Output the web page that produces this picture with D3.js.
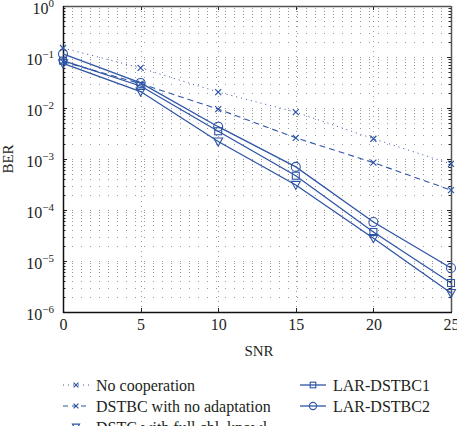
<!DOCTYPE html>
<html><head><meta charset="utf-8">
<script src="https://cdn.jsdelivr.net/npm/d3@7"></script>
<style>body{margin:0;background:#fff}svg{display:block}</style>
</head><body>
<script>
const snr = [0, 5, 10, 15, 20, 25];
const noCoop = [0.15, 0.061, 0.0205, 0.0083, 0.0025, 0.0008];
const dstbcNoAdapt = [0.081, 0.030, 0.0095, 0.0026, 0.00085, 0.000245];
const dstcFull = [0.075, 0.021, 0.0022, 0.00031, 0.000028, 0.00000235];
const lar1 = [0.085, 0.027, 0.0035, 0.00047, 0.000037, 0.0000037];
const lar2 = [0.115, 0.031, 0.0043, 0.0007, 0.000058, 0.0000073];
const seriesNames = ["No cooperation", "DSTBC with no adaptation", "DSTC with full chl. knowl.", "LAR-DSTBC1", "LAR-DSTBC2"];
const xTicks = [0, 5, 10, 15, 20, 25];
const yExponents = [0, -1, -2, -3, -4, -5, -6];

const W = 457, H = 426;
const m = {l: 63, r: 451, t: 6, b: 312};
const blue = "#2f55a6";
const textCol = "#231f20";
const font = "Liberation Serif, Times New Roman, serif";

const svg = d3.select("body").append("svg").attr("width", W).attr("height", H);
const x = d3.scaleLinear().domain([0, 25]).range([m.l, m.r]);
const y = d3.scaleLog().domain([1e-6, 1]).range([m.b, m.t]);

// grid
const minor = [];
for (let e = -6; e < 0; e++) for (let k = 1; k <= 9; k++) { if (!(e === -6 && k === 1)) minor.push(k * Math.pow(10, e)); }
svg.append("g").selectAll("line").data(minor).join("line")
  .attr("x1", m.l).attr("x2", m.r)
  .attr("y1", d => Math.round(y(d)) + 0.5).attr("y2", d => Math.round(y(d)) + 0.5)
  .attr("stroke", "#999").attr("stroke-width", 1).attr("stroke-dasharray", "1,8");
svg.append("g").selectAll("line").data([5, 10, 15, 20]).join("line")
  .attr("x1", d => Math.round(x(d)) + 0.5).attr("x2", d => Math.round(x(d)) + 0.5)
  .attr("y1", m.t).attr("y2", m.b)
  .attr("stroke", "#999").attr("stroke-width", 1).attr("stroke-dasharray", "1,4");

// axes
const gx = svg.append("g").attr("transform", `translate(0,${m.b})`)
  .call(d3.axisBottom(x).tickValues(xTicks).tickSize(0).tickPadding(7).tickFormat(d3.format("d")));
gx.select(".domain").remove();
gx.selectAll("text").attr("font-family", font).attr("font-size", 16).attr("fill", textCol);

const gy = svg.append("g").attr("transform", `translate(${m.l},0)`)
  .call(d3.axisLeft(y).tickValues(yExponents.map(e => Math.pow(10, e))).tickSize(0).tickPadding(9).tickFormat(() => ""));
gy.select(".domain").remove();
gy.selectAll(".tick text").each(function(d) {
  const t = d3.select(this);
  const e = Math.round(Math.log10(d));
  t.attr("font-family", font).attr("font-size", 16).attr("fill", textCol).attr("dy", "0.45em");
  t.append("tspan").text("10");
  t.append("tspan").attr("font-size", 11).attr("dy", "-0.65em").text(e === 0 ? "0" : "\u2212" + Math.abs(e));
});

// ticks inward on all sides
const minorTicks = minor.concat([1]);
const isMajor = d => Math.abs(Math.log10(d) - Math.round(Math.log10(d))) < 1e-9;
svg.append("g").selectAll("line").data(minorTicks).join("line")
  .attr("x1", m.l).attr("x2", d => m.l + (isMajor(d) ? 4 : 2.5))
  .attr("y1", d => Math.round(y(d)) + 0.5).attr("y2", d => Math.round(y(d)) + 0.5)
  .attr("stroke", "#222");
svg.append("g").selectAll("line").data(minorTicks).join("line")
  .attr("x1", m.r).attr("x2", d => m.r - (isMajor(d) ? 4 : 2.5))
  .attr("y1", d => Math.round(y(d)) + 0.5).attr("y2", d => Math.round(y(d)) + 0.5)
  .attr("stroke", "#222");
svg.append("g").selectAll("line").data(xTicks).join("line")
  .attr("x1", d => Math.round(x(d)) + 0.5).attr("x2", d => Math.round(x(d)) + 0.5)
  .attr("y1", m.t).attr("y2", m.t + 4).attr("stroke", "#222");
svg.append("g").selectAll("line").data(xTicks).join("line")
  .attr("x1", d => Math.round(x(d)) + 0.5).attr("x2", d => Math.round(x(d)) + 0.5)
  .attr("y1", m.b).attr("y2", m.b - 4).attr("stroke", "#222");

// frame
svg.append("line").attr("x1", m.l).attr("x2", m.r).attr("y1", m.t + 0.5).attr("y2", m.t + 0.5).attr("stroke", "#555").attr("stroke-width", 1.5);
svg.append("line").attr("x1", m.r + 0.5).attr("x2", m.r + 0.5).attr("y1", m.t).attr("y2", m.b).attr("stroke", "#555").attr("stroke-width", 1.5);
svg.append("line").attr("x1", m.l).attr("x2", m.r + 1).attr("y1", m.b + 0.5).attr("y2", m.b + 0.5).attr("stroke", "#111").attr("stroke-width", 1.5);
svg.append("line").attr("x1", m.l + 0.5).attr("x2", m.l + 0.5).attr("y1", m.t).attr("y2", m.b + 1).attr("stroke", "#111").attr("stroke-width", 1.5);

// axis titles
svg.append("text").attr("x", (m.l + m.r) / 2 + 2).attr("y", 356).attr("text-anchor", "middle")
  .attr("font-family", font).attr("font-size", 15).attr("fill", textCol).text("SNR");
svg.append("text").attr("transform", `translate(13,${(m.t + m.b) / 2}) rotate(-90)`).attr("text-anchor", "middle")
  .attr("font-family", font).attr("font-size", 15).attr("fill", textCol).text("BER");

// markers
function drawMarker(g, type, cx, cy, sc) {
  sc = sc || 1;
  if (type === "x") {
    const s = 3 * sc;
    g.append("path").attr("d", `M${cx - s},${cy - s}L${cx + s},${cy + s}M${cx - s},${cy + s}L${cx + s},${cy - s}`)
      .attr("stroke", blue).attr("stroke-width", 1.2).attr("fill", "none");
  } else if (type === "square") {
    const s = 3.5 * sc;
    g.append("rect").attr("x", cx - s).attr("y", cy - s).attr("width", 2 * s).attr("height", 2 * s)
      .attr("stroke", blue).attr("stroke-width", 1.1).attr("fill", "none");
  } else if (type === "circle") {
    g.append("circle").attr("cx", cx).attr("cy", cy).attr("r", 4.5 * sc)
      .attr("stroke", blue).attr("stroke-width", 1.1).attr("fill", "none");
  } else if (type === "tri") {
    const s = 4.5 * sc;
    g.append("path").attr("d", `M${cx - s},${cy - s * 0.8}L${cx + s},${cy - s * 0.8}L${cx},${cy + s}Z`)
      .attr("stroke", blue).attr("stroke-width", 1.1).attr("fill", "none");
  }
}

const series = [
  {name: seriesNames[0], vals: noCoop, dash: "1,4", marker: "x", w: 1},
  {name: seriesNames[1], vals: dstbcNoAdapt, dash: "6,4", marker: "x", w: 1.1},
  {name: seriesNames[2], vals: dstcFull, dash: null, marker: "tri", w: 1.3},
  {name: seriesNames[3], vals: lar1, dash: null, marker: "square", w: 1.3},
  {name: seriesNames[4], vals: lar2, dash: null, marker: "circle", w: 1.3}
];
const line = d3.line().x(d => x(d[0])).y(d => y(d[1]));
series.forEach(s => {
  const pts = snr.map((v, i) => [v, s.vals[i]]);
  const g = svg.append("g");
  g.append("path").attr("d", line(pts)).attr("fill", "none").attr("stroke", blue)
    .attr("stroke-width", s.w).attr("stroke-dasharray", s.dash);
  pts.forEach(p => drawMarker(g, s.marker, x(p[0]), y(p[1])));
});

// legend
const legendPos = [
  {x: 63, y: 385}, {x: 63, y: 406}, {x: 63, y: 427}, {x: 300, y: 385}, {x: 300, y: 406}
];
series.forEach((s, i) => {
  const p = legendPos[i];
  const g = svg.append("g");
  g.append("line").attr("x1", p.x).attr("x2", p.x + 26).attr("y1", p.y).attr("y2", p.y)
    .attr("stroke", blue).attr("stroke-width", s.w).attr("stroke-dasharray", s.dash ? (s.dash === "1,4" ? "1,4" : "5,4") : null);
  drawMarker(g, s.marker, p.x + 13, p.y, 0.8);
  g.append("text").attr("x", p.x + 33).attr("y", p.y).attr("dy", "0.35em")
    .attr("font-family", font).attr("font-size", 16).attr("fill", textCol).text(s.name);
});
</script>
</body></html>
